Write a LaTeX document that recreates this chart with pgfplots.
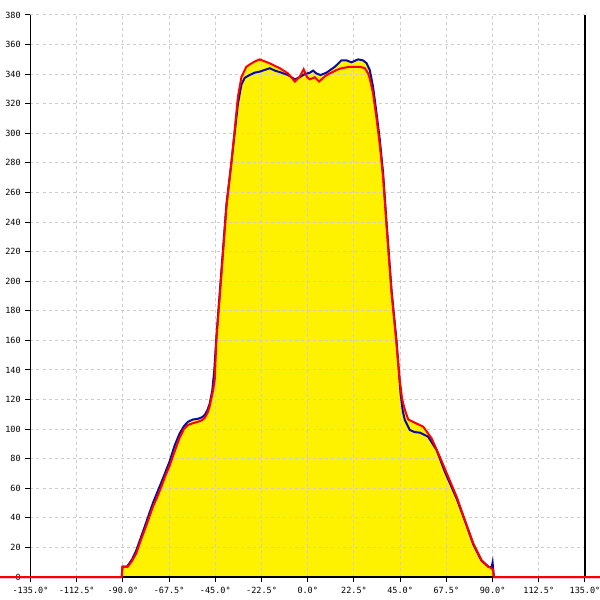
\documentclass[border=0pt]{standalone}
\usepackage{pgfplots}
\pgfplotsset{compat=1.18}
\usepackage{pgfplotstable}
\usepackage{fontspec}
\setmonofont{DejaVu Sans Mono}

\definecolor{curvered}{HTML}{FF0000}
\definecolor{curveblue}{HTML}{0A0AA8}
\definecolor{gridgray}{HTML}{CDCDCD}

% red series
\pgfplotstableread{
x y
-150 0
-90.6 0
-90.2 7
-87.6 7
-85.5 11
-83.5 16
-81.5 24
-79.4 31.8
-77.4 39.5
-75.4 47.5
-73.3 54
-71.3 61
-69.3 68.5
-67.3 75
-64.8 85
-62.4 94
-60.3 100
-58.3 102.8
-55.9 104
-53.4 105
-51.5 106
-50.2 107.5
-48.8 111
-47.8 115
-46.9 121
-46.1 126
-45.3 133
-44.5 160
-42 205
-39.6 250
-37.2 280
-35.6 302
-34 324.7
-32.3 338
-29.9 345
-28.3 346.5
-25.9 348.5
-23.4 350
-18.5 347.3
-13.6 344
-9.6 340.5
-6.3 335
-3.9 338.3
-2 343.3
-0.3 337.9
1 336.5
3.4 337.9
5.5 335
9.1 339.4
14 342.8
16.4 344
20.5 345
25.3 345
27.8 344
29.4 340.5
30.2 337
31.8 327
33.5 310
35.1 292
36.7 270
38.4 237
40.8 192
43.2 158
44.8 133
46 120
47.3 113
48.9 106.6
52.1 104.3
56.2 101.7
60.3 93.8
64.3 81.3
68.4 67.8
72.5 54.3
76.5 38.5
80.6 22.8
84.6 11.5
87.9 7
89.5 5.9
90.2 5
90.6 0
142.5 0
}\redtable

% blue series
\pgfplotstableread{
x y
-150 0
-90.6 0
-90.2 7
-88 7
-85.5 12
-83.5 18
-79.4 34
-75.4 50
-71.3 64
-67.3 78
-64.8 89
-62.4 97
-60.3 102
-58.3 105
-55.9 106.5
-53.4 107
-51.5 108
-50.2 109.5
-48.8 113
-47.8 117
-46.5 126
-45.5 140
-44.5 162
-42 208
-39.6 252
-37.2 280
-35.6 300
-34 320
-32.3 333
-30.7 337.5
-28.3 339.4
-25.9 341
-23.4 341.7
-18.5 344
-16 342.4
-12.8 341
-9.6 339.4
-6.3 336.5
-3.9 337.9
-1.5 340
1 341
2.6 342.4
4.2 340.5
6.2 339.4
9.1 341
13.2 345
16.4 349.3
18.9 349.3
21.3 348
24.5 350
26.9 349.3
28.6 347.5
30.2 342.8
31.8 331.5
33.5 313.5
35.1 295.5
36.7 273
38.4 239
40.8 194
43.2 160
45.2 124
46.3 112
47.3 106
49.7 99.4
52 98
54.6 97.6
58.6 94.9
62.7 85.9
66.8 71
68.4 66
72.5 53
76.5 38
80.6 22
84.6 11
87.9 7
89.5 6.5
90 9.7
90.3 5
90.6 0
142.5 0
}\bluetable

\begin{document}
\begin{tikzpicture}
\begin{axis}[
    set layers,
    scale only axis,
    width=277.25pt, height=281pt,
    xmin=-135, xmax=135,
    ymin=0, ymax=380,
    clip=false,
    axis x line=bottom,
    axis y line=box,
    axis line style={-, black, line width=0.6pt},
    xtick={-135,-112.5,...,135},
    xticklabels={-135.0°,-112.5°,-90.0°,-67.5°,-45.0°,-22.5°,0.0°,22.5°,45.0°,67.5°,90.0°,112.5°,135.0°},
    ytick={0,20,...,380},
    yticklabels={0,20,40,60,80,100,120,140,160,180,200,220,240,260,280,300,320,340,360,380},
    xtick pos=bottom, ytick pos=left,
    tick align=outside,
    major tick length=2.5pt,
    tick style={black, line width=0.5pt},
    ticklabel style={font=\ttfamily\fontsize{4.25}{5}\selectfont, inner sep=0pt},
    yticklabel style={anchor=east, xshift=-2.2pt},
    xticklabel style={anchor=north, yshift=-2.6pt},
    grid=major,
    major grid style={gridgray, line width=0.5pt, dash pattern=on 1.5pt off 1.5pt},
]
\addplot[fill=yellow, draw=none, on layer=axis background] table {\bluetable} \closedcycle;
\addplot[fill=yellow, draw=none, on layer=axis background] table {\redtable} \closedcycle;
\addplot[curveblue, line width=1pt] table {\bluetable};
\addplot[curvered, line width=1pt] table {\redtable};
\end{axis}
\pgfresetboundingbox
\path[use as bounding box] (current axis.south west) ++(-15.25pt,-11.5pt) rectangle ++(300pt,300pt);
\end{tikzpicture}
\end{document}
